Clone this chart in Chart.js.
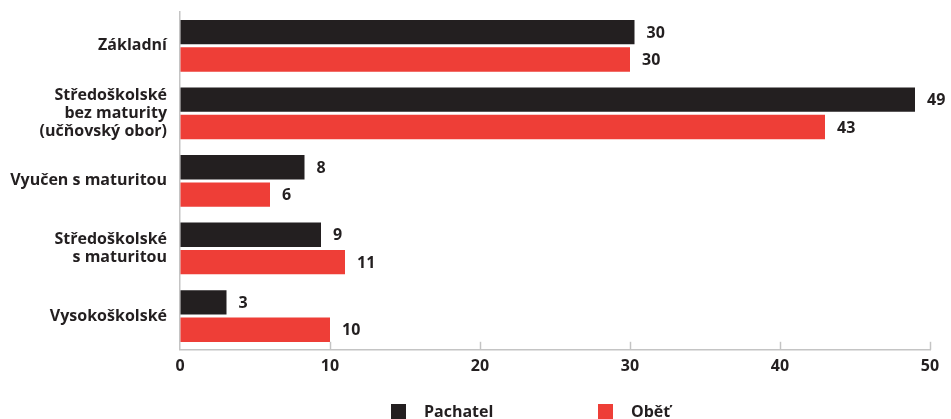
<!DOCTYPE html>
<html>
<head>
<meta charset="utf-8">
<script src="https://cdn.jsdelivr.net/npm/chart.js@4"></script>
<style>
html,body{margin:0;padding:0;background:#fff;}
#wrap{position:relative;width:951px;height:419px;overflow:hidden;}
#legenda{position:absolute;top:402px;left:0;width:951px;height:20px;font:bold 16px "Open Sans",sans-serif;color:#231f20;}
#legenda span{position:absolute;top:0;line-height:18px;}
#legenda i{position:absolute;top:2px;width:15px;height:15px;}
</style>
</head>
<body>
<div id="wrap">
<canvas id="myChart" width="951" height="419"></canvas>
<div id="legenda"></div>
</div>
<script>
let kategorie=[['Základní'],['Středoškolské','bez maturity','(učňovský obor)'],['Vyučen s maturitou'],['Středoškolské','s maturitou'],['Vysokoškolské']]
let pachatel=[30.3, 49, 8.3, 9.4, 3.1]
let obet=[30, 43, 6, 11, 10]
let nazvy=['Pachatel','Oběť']
let barvy=['#231f20','#ee3e37']
let osaX=[0,10,20,30,40,50]
let font='"Open Sans", sans-serif'
let vel=16
let textBarva='#231f20'
let seda='#c4c4c4'

// popisky hodnot na konci sloupcu
const hodnoty={
    id:'hodnoty',
    afterDatasetsDraw(chart){
        const ctx=chart.ctx
        ctx.save()
        ctx.font='bold '+vel+'px '+font
        ctx.fillStyle=textBarva
        ctx.textAlign='left'
        ctx.textBaseline='middle'
        chart.data.datasets.forEach((ds,i)=>{
            chart.getDatasetMeta(i).data.forEach((bar,j)=>{
                ctx.fillText(Math.round(ds.data[j]),bar.x+12,bar.y+1)
            })
        })
        ctx.restore()
    }
}
// kratke znacky na ose x smerem nahoru
const znacky={
    id:'znacky',
    afterDraw(chart){
        const ctx=chart.ctx
        const x=chart.scales.x
        ctx.save()
        ctx.strokeStyle=seda
        ctx.lineWidth=1.5
        osaX.forEach(v=>{
            if(v===0) return
            let px=Math.round(x.getPixelForValue(v))+0.5
            ctx.beginPath()
            ctx.moveTo(px,x.top)
            ctx.lineTo(px,x.top-8)
            ctx.stroke()
        })
        ctx.restore()
    }
}

const ctx=document.getElementById('myChart')
new Chart(ctx,{
    type:'bar',
    data:{
        labels:kategorie,
        datasets:[{
            label:nazvy[0],
            data:pachatel,
            backgroundColor:barvy[0],
            categoryPercentage:0.81,
            barPercentage:0.89
        },{
            label:nazvy[1],
            data:obet,
            backgroundColor:barvy[1],
            categoryPercentage:0.81,
            barPercentage:0.89
        }]
    },
    options:{
        indexAxis:'y',
        responsive:false,
        animation:false,
        layout:{padding:{top:12,right:21,bottom:36,left:0}},
        plugins:{
            legend:{display:false},
            tooltip:{enabled:false}
        },
        scales:{
            x:{
                min:0,
                max:50,
                afterBuildTicks:(s)=>{s.ticks=osaX.map(v=>({value:v}))},
                grid:{display:true,drawOnChartArea:false,drawTicks:false},
                border:{display:true,color:seda,width:1.5},
                ticks:{padding:7,color:textBarva,font:{family:font,size:vel,weight:'bold'}}
            },
            y:{
                afterFit:(s)=>{s.width=180;s.paddingTop=0;s.paddingBottom=0},
                grid:{display:false,drawTicks:false},
                border:{display:true,color:seda,width:1.5},
                ticks:{padding:13,color:textBarva,font:{family:font,size:vel,weight:'bold',lineHeight:1.13}}
            }
        }
    },
    plugins:[hodnoty,znacky]
})

// legenda pod grafem
let leg=document.getElementById('legenda')
let pozice=[391,598]
nazvy.forEach((n,i)=>{
    leg.innerHTML+='<i style="left:'+pozice[i]+'px;background:'+barvy[i]+'"></i><span style="left:'+(pozice[i]+33)+'px">'+n+'</span>'
})
</script>
</body>
</html>
